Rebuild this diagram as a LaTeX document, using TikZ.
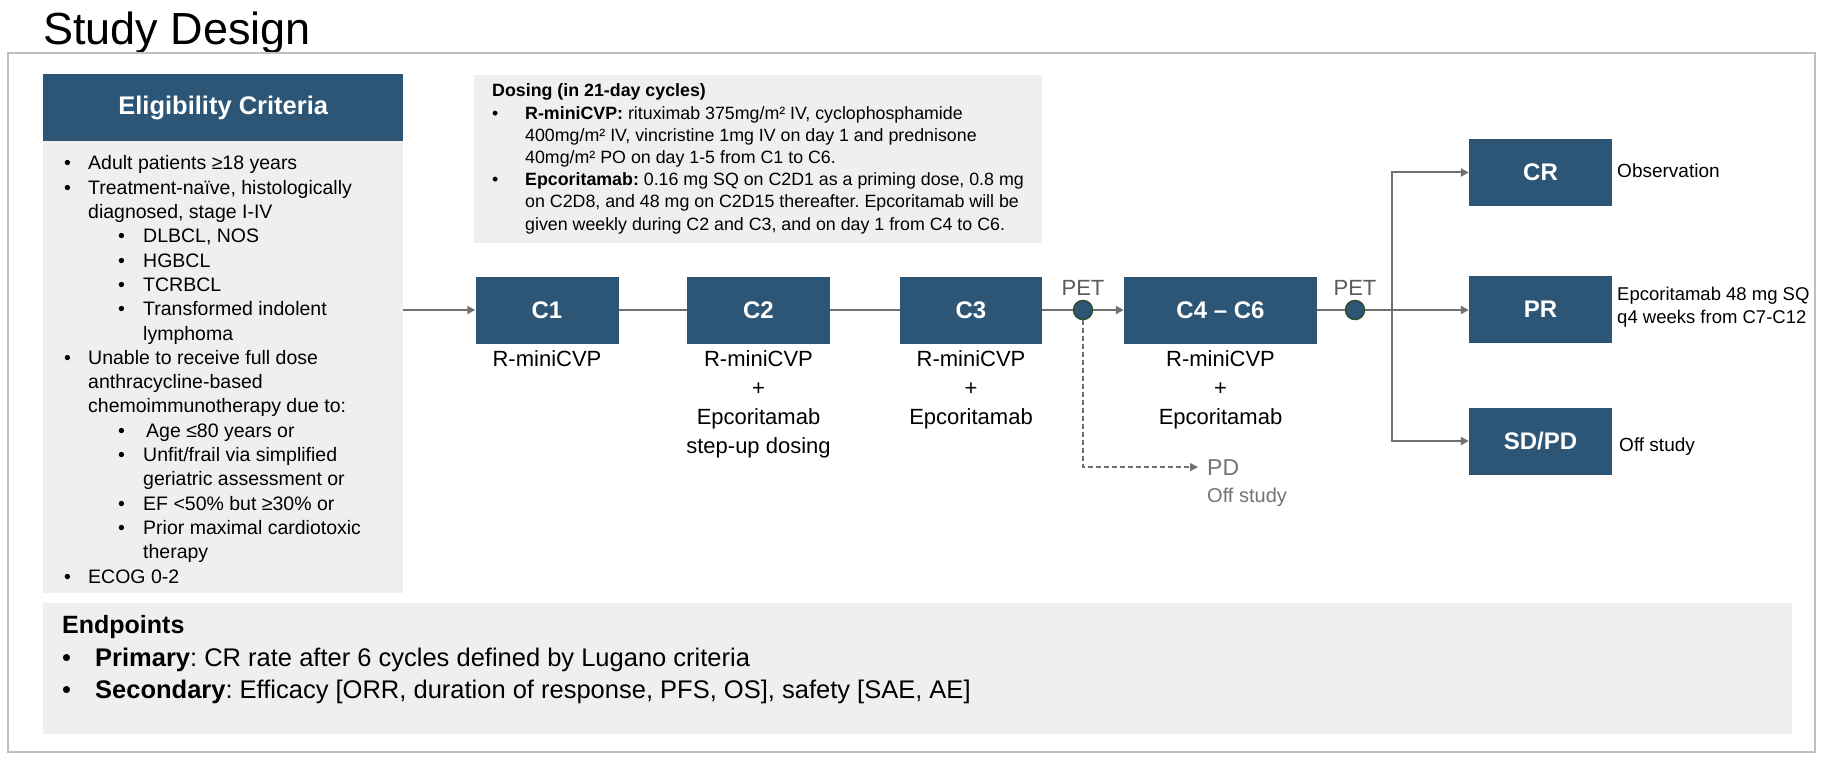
\documentclass[tikz,border=0pt]{standalone}
\usepackage{fontspec}
\setmainfont{Liberation Sans}
\usetikzlibrary{arrows.meta}
\definecolor{myblue}{HTML}{2C5576}
\definecolor{boxgray}{HTML}{EFEFEF}
\definecolor{framegray}{HTML}{BFBFBF}
\definecolor{linegray}{HTML}{707070}
\definecolor{petgray}{HTML}{5A5A5A}
\definecolor{pdgray}{HTML}{747474}
\definecolor{dotedge}{HTML}{2E4F2E}
\newcommand{\fsz}[2]{\fontsize{#1}{#2}\selectfont}
\newcommand{\lstack}[1]{\vtop{\halign{##\hfil\cr#1\crcr}}}
\newcommand{\cstack}[1]{\vtop{\halign{\hfil##\hfil\cr#1\crcr}}}
\newcommand{\bul}[1]{\makebox[#1][l]{•}}
\frenchspacing
\begin{document}
\begin{tikzpicture}[x=1pt,y=-1pt,
  graybox/.style={fill=boxgray,inner sep=0pt,anchor=north west},
  bluebox/.style={fill=myblue,text=white,inner sep=0pt,minimum height=67pt,font=\fsz{24}{28}\bfseries},
  txt/.style={inner sep=0pt,anchor=base west},
  lbl/.style={inner sep=0pt,anchor=base,font=\fsz{22}{29}},
  ln/.style={draw=linegray,line width=2pt},
  arr/.style={-{Triangle[length=8pt,width=8pt]}},
  petdot/.style={circle,fill=myblue,draw=dotedge,line width=1.5pt,minimum size=19pt,inner sep=0pt}]
\useasboundingbox (0,0) rectangle (1826,762);
% title and frame
\node[txt,font=\fsz{45}{50}] (title) at (43,45) {Study Design};
\node[draw=framegray,line width=2pt,minimum width=1807pt,minimum height=699pt,anchor=north west,inner sep=0pt] (frame) at (7,52) {};
% eligibility
\node[graybox,minimum width=360pt,minimum height=452pt] (elig) at (43,141) {};
\node[bluebox,minimum width=360pt,anchor=north west,font=\fsz{25.5}{28}\bfseries] (eligh) at (43,74) {Eligibility Criteria};
\node[txt,font=\fsz{19.5}{24.3}] (eligt) at (64,170) {\lstack{%
\bul{24pt}Adult patients ≥18 years\cr
\bul{24pt}Treatment-naïve, histologically\cr
\hspace*{24pt}diagnosed, stage I-IV\cr
\hspace*{54pt}\bul{25pt}DLBCL, NOS\cr
\hspace*{54pt}\bul{25pt}HGBCL\cr
\hspace*{54pt}\bul{25pt}TCRBCL\cr
\hspace*{54pt}\bul{25pt}Transformed indolent\cr
\hspace*{79pt}lymphoma\cr
\bul{24pt}Unable to receive full dose\cr
\hspace*{24pt}anthracycline-based\cr
\hspace*{24pt}chemoimmunotherapy due to:\cr
\hspace*{54pt}\bul{25pt}\hspace*{3pt}Age ≤80 years or\cr
\hspace*{54pt}\bul{25pt}Unfit/frail via simplified\cr
\hspace*{79pt}geriatric assessment or\cr
\hspace*{54pt}\bul{25pt}EF <50\% but ≥30\% or\cr
\hspace*{54pt}\bul{25pt}Prior maximal cardiotoxic\cr
\hspace*{79pt}therapy\cr
\bul{24pt}ECOG 0-2}};
% dosing
\node[graybox,minimum width=568pt,minimum height=168pt] (dose) at (474,75) {};
\node[txt,font=\fsz{17.8}{22.2}] (doset) at (492,97) {\lstack{%
\textbf{Dosing (in 21-day cycles)}\cr
\bul{33pt}\textbf{R-miniCVP:} rituximab 375mg/m² IV, cyclophosphamide\cr
\hspace*{33pt}400mg/m² IV, vincristine 1mg IV on day 1 and prednisone\cr
\hspace*{33pt}40mg/m² PO on day 1-5 from C1 to C6.\cr
\bul{33pt}\textbf{Epcoritamab:} 0.16 mg SQ on C2D1 as a priming dose, 0.8 mg\cr
\hspace*{33pt}on C2D8, and 48 mg on C2D15 thereafter. Epcoritamab will be\cr
\hspace*{33pt}given weekly during C2 and C3, and on day 1 from C4 to C6.}};
% treatment chain
\node[bluebox,minimum width=143pt] (c1) at (547,310) {C1};
\node[bluebox,minimum width=143pt] (c2) at (758.5,310) {C2};
\node[bluebox,minimum width=142pt] (c3) at (971,310) {C3};
\node[bluebox,minimum width=193pt] (c4) at (1220.5,310) {C4 – C6};
\node[petdot] (p1) at (1083,310) {};
\node[petdot] (p2) at (1355,310) {};
\node[txt,anchor=base,text=petgray,font=\fsz{22}{26}] (pet1) at (1083,295) {PET};
\node[txt,anchor=base,text=petgray,font=\fsz{22}{26}] (pet2) at (1355,295) {PET};
\node[lbl] (l1) at (547,366) {R-miniCVP};
\node[lbl] (l2) at (758.5,366) {\cstack{R-miniCVP\cr +\cr Epcoritamab\cr step-up dosing}};
\node[lbl] (l3) at (971,366) {\cstack{R-miniCVP\cr +\cr Epcoritamab}};
\node[lbl] (l4) at (1220.5,366) {\cstack{R-miniCVP\cr +\cr Epcoritamab}};
% PD branch
\node[txt,text=pdgray,font=\fsz{23}{27}] (pd) at (1207,475) {PD};
\node[txt,text=pdgray,font=\fsz{20}{24}] (pdoff) at (1207,502) {Off study};
% outcome boxes
\node[bluebox,minimum width=143pt] (cr) at (1540.5,172.5) {CR};
\node[bluebox,minimum width=143pt] (pr) at (1540.5,309) {PR};
\node[bluebox,minimum width=143pt] (sd) at (1540.5,441) {SD/PD};
\node[txt,font=\fsz{19}{23}] (obs) at (1617,178) {Observation};
\node[txt,font=\fsz{18.5}{23}] (prl) at (1617,300) {\lstack{Epcoritamab 48 mg SQ\cr q4 weeks from C7-C12}};
\node[txt,font=\fsz{19}{23}] (off) at (1619,451) {Off study};
\coordinate (bus) at (1392,310);
% endpoints
\node[graybox,minimum width=1749pt,minimum height=131pt] (endp) at (43,603) {};
\node[txt,font=\fsz{25}{28}\bfseries] (endh) at (62,633) {Endpoints};
\node[txt,font=\fsz{25.5}{32}] (endt) at (62,666) {\lstack{%
\bul{33pt}\textbf{Primary}: CR rate after 6 cycles defined by Lugano criteria\cr
\bul{33pt}\textbf{Secondary}: Efficacy [ORR, duration of response, PFS, OS], safety [SAE, AE]}};
% connectors
\draw[ln,arr] (elig.east |- c1.west) -- (c1.west);
\draw[ln] (c1.east) -- (c2.west);
\draw[ln] (c2.east) -- (c3.west);
\draw[ln] (c3.east) -- (p1.west);
\draw[ln,arr] (p1.east) -- (c4.west);
\draw[ln] (c4.east) -- (p2.west);
\draw[ln,arr] (p2.east) -- (pr.west |- p2.east);
\draw[ln,arr] (bus) |- (cr.west);
\draw[ln,arr] (bus) |- (sd.west);
\draw[ln,line width=1.5pt,dash pattern=on 5pt off 3pt,arr] (p1.south) |- ([xshift=-9pt]pd.west);
\end{tikzpicture}
\end{document}
